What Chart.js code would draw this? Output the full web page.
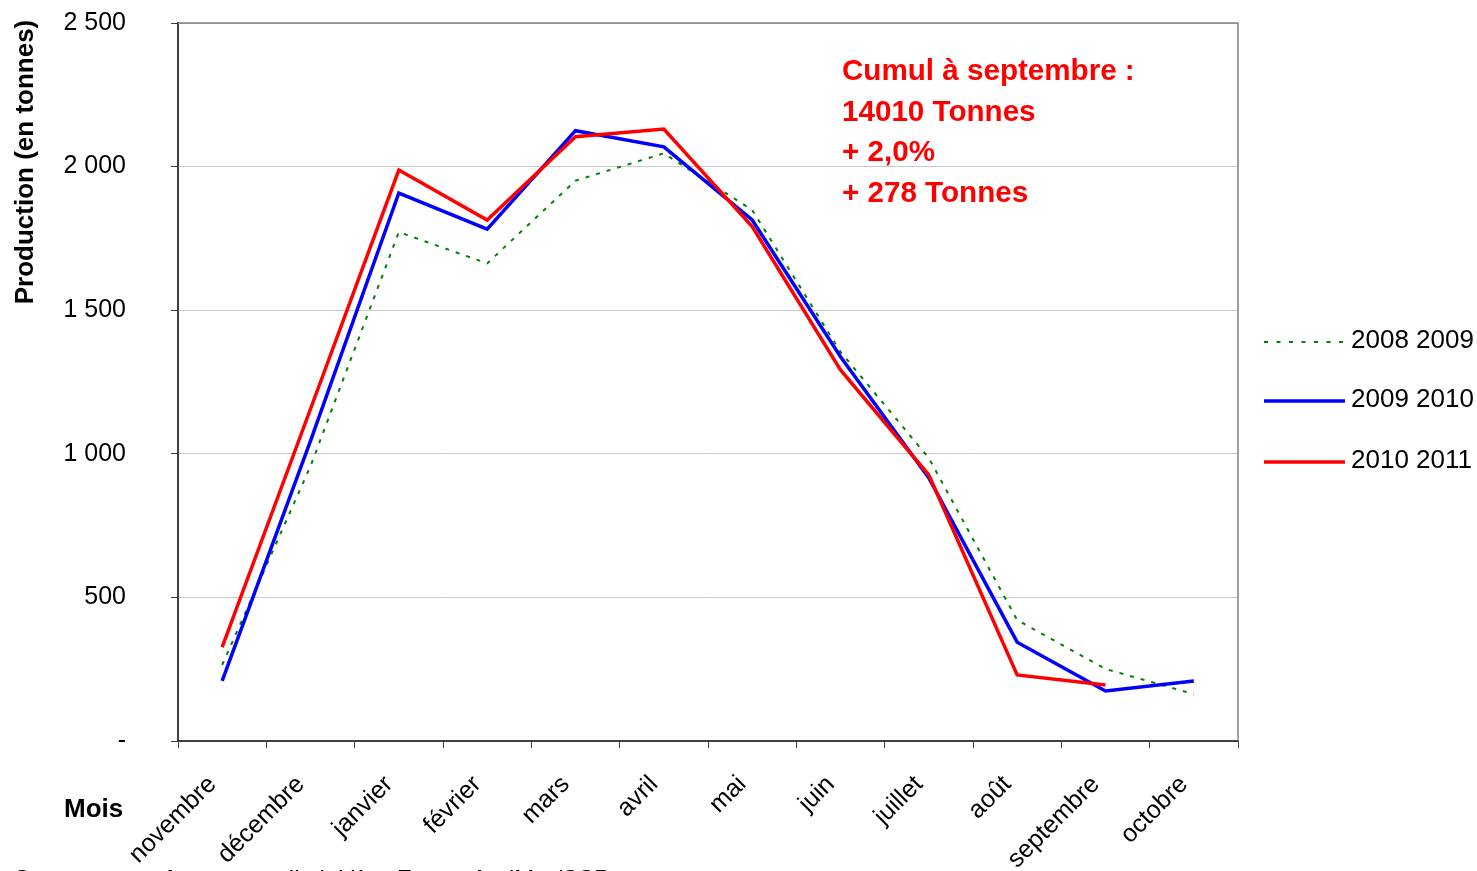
<!DOCTYPE html>
<html>
<head>
<meta charset="utf-8">
<script src="https://cdn.jsdelivr.net/npm/chart.js@4/dist/chart.umd.min.js"></script>
<style>
  html, body { margin: 0; padding: 0; background: #fff; }
  #wrap { width: 1477px; height: 871px; position: relative; }
</style>
</head>
<body>
<div id="wrap"><canvas id="chart" width="1477" height="871"></canvas></div>
<script>
const months = ["novembre", "décembre", "janvier", "février", "mars", "avril", "mai", "juin", "juillet", "août", "septembre", "octobre"];
const prod0809 = [265, 957, 1772, 1663, 1951, 2046, 1849, 1355, 985, 421, 251, 163];
const prod0910 = [209, 1045, 1908, 1782, 2125, 2069, 1814, 1338, 916, 344, 174, 209];
const prod1011 = [327, 1156, 1988, 1814, 2104, 2131, 1791, 1292, 926, 230, 195, null];
const seriesLabels = ["2008 2009", "2009 2010", "2010 2011"];
const noteLines = ["Cumul à septembre :", "14010 Tonnes", "+ 2,0%", "+ 278 Tonnes"];

const FONT = "'Liberation Sans', Arial, sans-serif";
const GREEN = "#008000";
const BLUE = "#0000FF";
const RED = "#FF0000";

function fmtThousands(v) {
    if (v === 0) {
        return "-";
    }
    return String(v).replace(/\B(?=(\d{3})+(?!\d))/g, " ");
}

// plot border, titles, annotation and legend (drawn by hand like the Excel original)
const decorations = {
    id: "decorations",
    beforeDatasetsDraw(chart) {
        const { ctx, chartArea: a } = chart;
        ctx.save();
        ctx.strokeStyle = "#808080";
        ctx.lineWidth = 1.5;
        ctx.beginPath();
        ctx.moveTo(a.left, a.top);
        ctx.lineTo(a.right, a.top);
        ctx.lineTo(a.right, a.bottom);
        ctx.stroke();
        ctx.restore();
    },
    afterDraw(chart) {
        const { ctx } = chart;
        ctx.save();
        // y title
        ctx.fillStyle = "#000";
        ctx.font = "bold 26px " + FONT;
        ctx.textAlign = "center";
        ctx.textBaseline = "middle";
        ctx.translate(26, 162);
        ctx.rotate(-Math.PI / 2);
        ctx.fillText("Production (en tonnes)", 0, 0);
        ctx.restore();

        ctx.save();
        ctx.fillStyle = "#000";
        ctx.font = "bold 26px " + FONT;
        ctx.textAlign = "left";
        ctx.textBaseline = "middle";
        ctx.fillText("Mois", 64, 810);

        // cut-off source line at the bottom
        ctx.font = "24px " + FONT;
        ctx.textBaseline = "alphabetic";
        ctx.fillText("Source : enquête mensuelle laitière FranceAgriMer/SSP", 14, 887);

        // red annotation
        ctx.fillStyle = RED;
        ctx.font = "bold 29.6px " + FONT;
        ctx.textBaseline = "middle";
        noteLines.forEach((line, i) => {
            ctx.fillText(line, 842, 72 + i * 40.5);
        });

        // legend
        const legend = [
            { label: seriesLabels[0], color: GREEN, width: 2, dash: [4, 8.5] },
            { label: seriesLabels[1], color: BLUE, width: 3.5, dash: [] },
            { label: seriesLabels[2], color: RED, width: 3.5, dash: [] },
        ];
        const ys = [342, 401, 462];
        legend.forEach((item, i) => {
            ctx.strokeStyle = item.color;
            ctx.lineWidth = item.width;
            ctx.setLineDash(item.dash);
            ctx.beginPath();
            ctx.moveTo(1264, ys[i]);
            ctx.lineTo(1345, ys[i]);
            ctx.stroke();
            ctx.setLineDash([]);
            ctx.fillStyle = "#000";
            ctx.font = "26px " + FONT;
            ctx.fillText(item.label, 1351, ys[i] - 1);
        });
        ctx.restore();
    },
};

new Chart(document.getElementById("chart"), {
    type: "line",
    data: {
        labels: months,
        datasets: [
            {
                label: seriesLabels[0],
                data: prod0809,
                borderColor: GREEN,
                borderWidth: 2,
                borderDash: [4, 7],
                order: 2,
            },
            {
                label: seriesLabels[1],
                data: prod0910,
                borderColor: BLUE,
                borderWidth: 3.5,
                order: 1,
            },
            {
                label: seriesLabels[2],
                data: prod1011,
                borderColor: RED,
                borderWidth: 3.5,
                order: 0,
            },
        ],
    },
    options: {
        responsive: false,
        animation: false,
        devicePixelRatio: 1,
        layout: {
            padding: { top: 23, right: 239, bottom: 0, left: 0 },
        },
        elements: {
            point: { radius: 0 },
            line: { tension: 0, borderCapStyle: "butt" },
        },
        plugins: {
            legend: { display: false },
            tooltip: { enabled: false },
        },
        scales: {
            x: {
                offset: true,
                grid: {
                    offset: true,
                    drawOnChartArea: false,
                    drawTicks: true,
                    tickLength: 7,
                    tickColor: "#404040",
                },
                border: { color: "#404040", width: 2 },
                ticks: {
                    color: "#000",
                    font: { family: FONT, size: 25 },
                    maxRotation: 45,
                    minRotation: 45,
                    autoSkip: false,
                    padding: 12,
                    // trailing spaces push the rotated text back along its baseline
                    callback: (v, i) => months[i] + "  ",
                },
                afterFit: (axis) => {
                    axis.height = 130;
                },
            },
            y: {
                min: 0,
                max: 2500,
                grid: {
                    color: "#c8c8c8",
                    lineWidth: 1,
                    tickLength: 7,
                    tickColor: "#404040",
                },
                border: { color: "#404040", width: 2 },
                ticks: {
                    stepSize: 500,
                    color: "#000",
                    font: { family: FONT, size: 25 },
                    padding: 45,
                    callback: (v) => fmtThousands(v),
                },
                afterFit: (axis) => {
                    axis.width = 178;
                    axis.paddingTop = 14;
                    axis.paddingBottom = 14;
                },
            },
        },
    },
    plugins: [decorations],
});
</script>
</body>
</html>
